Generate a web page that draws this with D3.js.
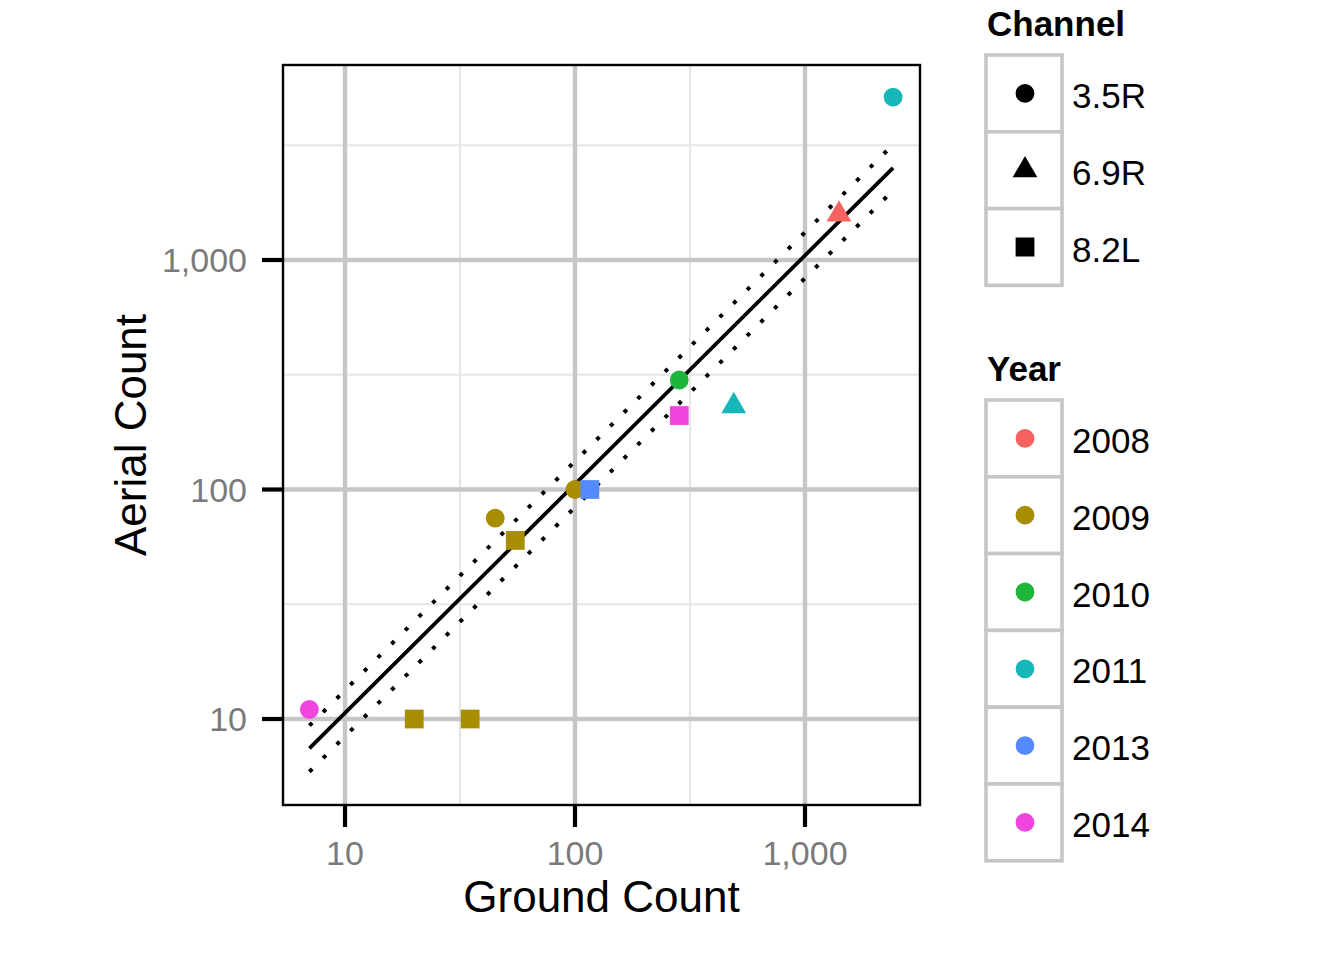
<!DOCTYPE html>
<html>
<head>
<meta charset="utf-8">
<script src="https://cdn.jsdelivr.net/npm/d3@7"></script>
<style>
  html, body { margin: 0; padding: 0; background: #fff; }
  svg { display: block; font-family: "Liberation Sans", Arial, Helvetica, sans-serif; }
</style>
</head>
<body>
<svg id="chart" width="1343" height="960"></svg>
<script>
// ---- data ----
const years = ["2008", "2009", "2010", "2011", "2013", "2014"];
const yearColors = ["#F6625E", "#A88D00", "#1DB53A", "#17B6B9", "#5589FF", "#F046DD"];
const channels = ["3.5R", "6.9R", "8.2L"];
const channelShapes = ["circle", "triangle", "square"];

const groundCount = [7, 20, 35, 45, 55, 100, 116, 284, 284, 490, 1405, 2415];
const aerialCount = [11, 10, 10, 75, 60, 100, 100, 300, 210, 231, 1580, 5130];
const pointYear = ["2014", "2009", "2009", "2009", "2009", "2009", "2013", "2010", "2014", "2011", "2008", "2011"];
const pointChannel = ["3.5R", "8.2L", "8.2L", "3.5R", "8.2L", "3.5R", "8.2L", "3.5R", "8.2L", "6.9R", "6.9R", "3.5R"];

// fitted line and band
const fitX = [7, 2415];
const fitY = [7.45, 2522];
const fitLower = [5.89, 2010];
const fitUpper = [9.35, 3184];

const xTicks = [10, 100, 1000];
const yTicks = [10, 100, 1000];
const xMinor = [31.62, 316.2];
const yMinor = [31.62, 316.2, 3162];

// ---- layout ----
const svg = d3.select("#chart");
const panel = { left: 283, right: 920, top: 65, bottom: 805 };

const x = d3.scaleLog().domain([Math.pow(10, 0.7304), Math.pow(10, 3.5)]).range([panel.left, panel.right]);
const y = d3.scaleLog().domain([Math.pow(10, 0.6253), Math.pow(10, 3.8497)]).range([panel.bottom, panel.top]);

const fmt = d3.format(",");
const color = d3.scaleOrdinal().domain(years).range(yearColors);
const shape = d3.scaleOrdinal().domain(channels).range(channelShapes);

// R-like shape paths
function shapePath(type, cx, cy, size) {
  if (type === "circle") {
    const r = size;
    return `M${cx - r},${cy}a${r},${r} 0 1,0 ${2 * r},0a${r},${r} 0 1,0 ${-2 * r},0Z`;
  } else if (type === "square") {
    const h = size;
    return `M${cx - h},${cy - h}h${2 * h}v${2 * h}h${-2 * h}Z`;
  } else {
    const r = size * 1.52;
    const xc = r * Math.sqrt(3) / 2;
    return `M${cx},${cy - r}L${cx + xc},${cy + r / 2}L${cx - xc},${cy + r / 2}Z`;
  }
}

// panel background
svg.append("rect")
  .attr("x", panel.left).attr("y", panel.top)
  .attr("width", panel.right - panel.left).attr("height", panel.bottom - panel.top)
  .attr("fill", "#fff");

svg.append("clipPath").attr("id", "clip").append("rect")
  .attr("x", panel.left).attr("y", panel.top)
  .attr("width", panel.right - panel.left).attr("height", panel.bottom - panel.top);

const g = svg.append("g").attr("clip-path", "url(#clip)");

// minor grid
g.selectAll(".xminor").data(xMinor).enter().append("line")
  .attr("x1", d => x(d)).attr("x2", d => x(d))
  .attr("y1", panel.top).attr("y2", panel.bottom)
  .attr("stroke", "#e6e6e6").attr("stroke-width", 2.2);
g.selectAll(".yminor").data(yMinor).enter().append("line")
  .attr("y1", d => y(d)).attr("y2", d => y(d))
  .attr("x1", panel.left).attr("x2", panel.right)
  .attr("stroke", "#e6e6e6").attr("stroke-width", 2.2);
// major grid
g.selectAll(".xmajor").data(xTicks).enter().append("line")
  .attr("x1", d => x(d)).attr("x2", d => x(d))
  .attr("y1", panel.top).attr("y2", panel.bottom)
  .attr("stroke", "#c6c6c6").attr("stroke-width", 4.4);
g.selectAll(".ymajor").data(yTicks).enter().append("line")
  .attr("y1", d => y(d)).attr("y2", d => y(d))
  .attr("x1", panel.left).attr("x2", panel.right)
  .attr("stroke", "#c6c6c6").attr("stroke-width", 4.4);

// fit lines
const lineGen = d3.line().x(d => x(d[0])).y(d => y(d[1]));
g.append("path").datum(d3.zip(fitX, fitUpper)).attr("d", lineGen)
  .attr("fill", "none").attr("stroke", "#000").attr("stroke-width", 4)
  .attr("stroke-dasharray", "4 15.3");
g.append("path").datum(d3.zip(fitX, fitLower)).attr("d", lineGen)
  .attr("fill", "none").attr("stroke", "#000").attr("stroke-width", 4)
  .attr("stroke-dasharray", "4 15.3");
g.append("path").datum(d3.zip(fitX, fitY)).attr("d", lineGen)
  .attr("fill", "none").attr("stroke", "#000").attr("stroke-width", 3.8);

// points
const points = groundCount.map((gc, i) => ({ gx: gc, ay: aerialCount[i], year: pointYear[i], ch: pointChannel[i] }));
g.selectAll(".pt").data(points).enter().append("path")
  .attr("d", d => shapePath(shape(d.ch), x(d.gx), y(d.ay), 9.4))
  .attr("fill", d => color(d.year));

// panel border
svg.append("rect")
  .attr("x", panel.left).attr("y", panel.top)
  .attr("width", panel.right - panel.left).attr("height", panel.bottom - panel.top)
  .attr("fill", "none").attr("stroke", "#000").attr("stroke-width", 2.4);

// axes ticks
svg.selectAll(".xtick").data(xTicks).enter().append("line")
  .attr("x1", d => x(d)).attr("x2", d => x(d))
  .attr("y1", panel.bottom).attr("y2", panel.bottom + 22)
  .attr("stroke", "#000").attr("stroke-width", 4.2);
svg.selectAll(".ytick").data(yTicks).enter().append("line")
  .attr("y1", d => y(d)).attr("y2", d => y(d))
  .attr("x1", panel.left).attr("x2", panel.left - 21)
  .attr("stroke", "#000").attr("stroke-width", 4.2);

svg.selectAll(".xlab").data(xTicks).enter().append("text")
  .attr("x", d => x(d)).attr("y", 865)
  .attr("text-anchor", "middle").attr("font-size", 34).attr("fill", "#7a7a7a")
  .text(d => fmt(d));
svg.selectAll(".ylab").data(yTicks).enter().append("text")
  .attr("x", 247).attr("y", d => y(d) + 12.3)
  .attr("text-anchor", "end").attr("font-size", 34).attr("fill", "#7a7a7a")
  .text(d => fmt(d));

// axis titles
svg.append("text").attr("x", (panel.left + panel.right) / 2).attr("y", 912)
  .attr("text-anchor", "middle").attr("font-size", 44).attr("fill", "#000")
  .text("Ground Count");
svg.append("text")
  .attr("transform", `translate(146,${(panel.top + panel.bottom) / 2}) rotate(-90)`)
  .attr("text-anchor", "middle").attr("font-size", 44).attr("fill", "#000")
  .text("Aerial Count");

// ---- legends ----
const keyX = 986, keyW = 76, keyH = 76.8;
function legend(title, titleY, top, items, symbolFn) {
  svg.append("text").attr("x", keyX + 1).attr("y", titleY)
    .attr("font-size", 35).attr("font-weight", "bold").attr("fill", "#000").text(title);
  const lg = svg.append("g");
  items.forEach((it, i) => {
    const ky = top + i * keyH;
    lg.append("rect").attr("x", keyX).attr("y", ky).attr("width", keyW).attr("height", keyH)
      .attr("fill", "#fff").attr("stroke", "#c6c6c6").attr("stroke-width", 3.6);
    lg.append("path").attr("d", symbolFn(it, keyX + keyW / 2 + 1, ky + keyH / 2))
      .attr("fill", it.fill);
    lg.append("text").attr("x", 1072).attr("y", ky + keyH / 2 + 14.5)
      .attr("font-size", 35).attr("fill", "#000").text(it.label);
  });
}
legend("Channel", 36, 55,
  channels.map(c => ({ label: c, shape: shape(c), fill: "#000" })),
  (it, cx, cy) => shapePath(it.shape, cx, cy, 9.4));
legend("Year", 381, 400,
  years.map(yr => ({ label: yr, shape: "circle", fill: color(yr) })),
  (it, cx, cy) => shapePath("circle", cx, cy, 9.4));
</script>
</body>
</html>
